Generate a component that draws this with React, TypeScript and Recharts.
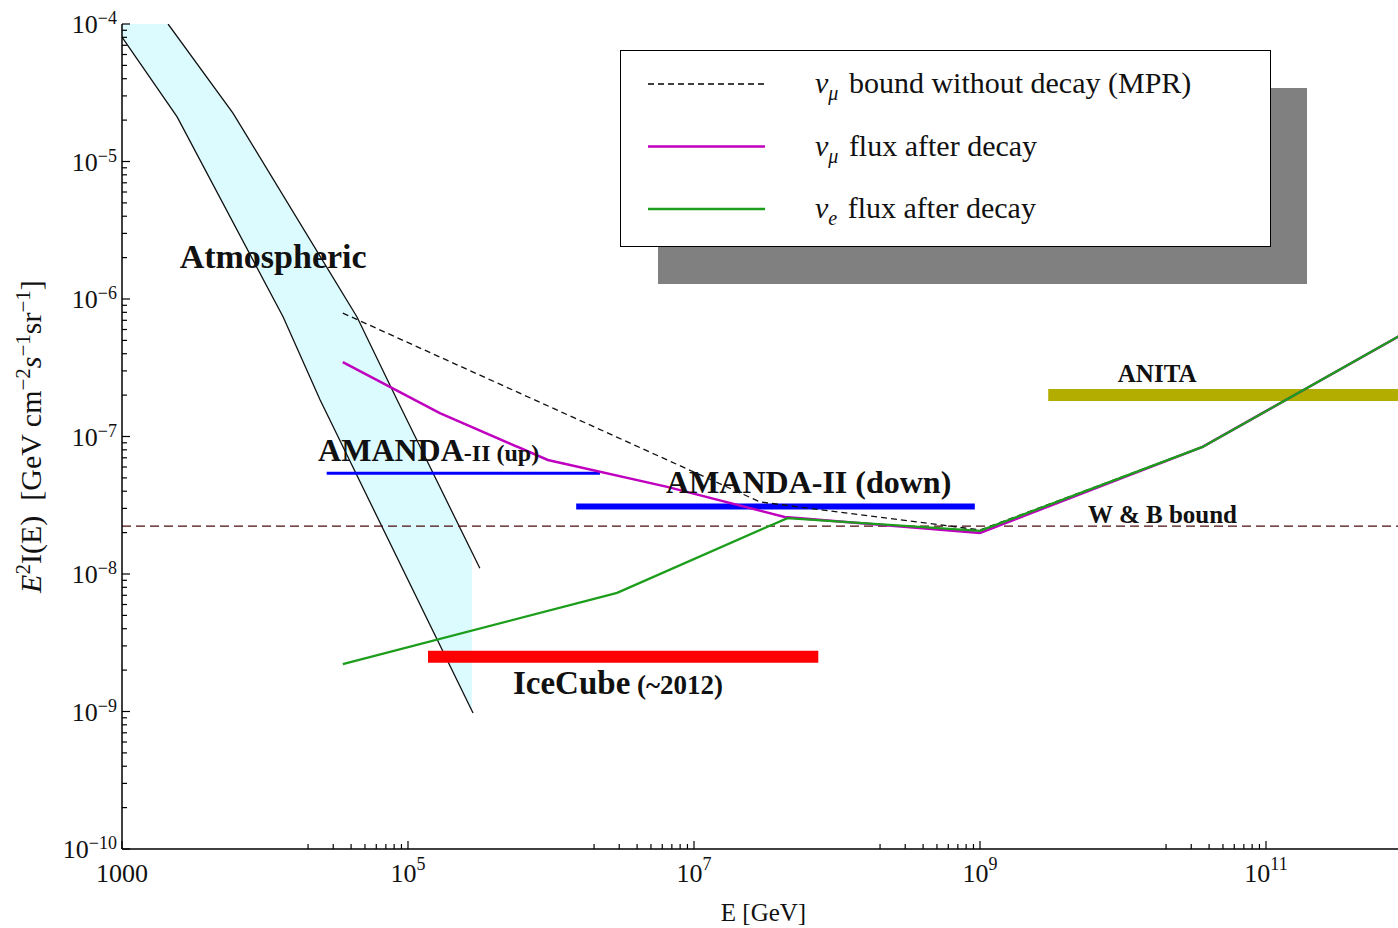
import React from 'react'
import { ComposedChart, Line, Area, XAxis, YAxis, ReferenceDot } from 'recharts'

const FONT = '"Liberation Serif", "Times New Roman", serif'
const PURPLE = '#bf00bf'
const GREEN = '#1c9e1c'

// E [GeV] vs E^2 I(E) [GeV cm^-2 s^-1 sr^-1]
const atmoBand = [
  { E: 1e3, lo: 8.04e-5, hi: 1e-4 },
  { E: 2.1e3, lo: 2.62e-5, hi: 1e-4 },
  { E: 2.43e3, lo: 2.11e-5, hi: 8.18e-5 },
  { E: 5.97e3, lo: 3.57e-6, hi: 2.25e-5 },
  { E: 1.34e4, lo: 7.4e-7, hi: 5.7e-6 },
  { E: 2.43e4, lo: 1.84e-7, hi: 2.06e-6 },
  { E: 4.4e4, lo: 5.16e-8, hi: 7.4e-7 },
  { E: 8.4e4, lo: 1.31e-8, hi: 1.84e-7 },
  { E: 2.8e5, lo: 1.01e-9, hi: 1.44e-8 },
]
const atmoLower = [[1e3, 8.04e-5], [2.43e3, 2.11e-5], [1.34e4, 7.4e-7], [2.43e4, 1.84e-7], [2.85e5, 9.75e-10]]
const atmoUpper = [[2.1e3, 1e-4], [5.97e3, 2.25e-5], [4.4e4, 7.4e-7], [8.4e4, 1.84e-7], [3.18e5, 1.1e-8]]

const mprBound = [[3.5e4, 7.9e-7], [2.9e7, 3.34e-8], [1e9, 2.09e-8], [3.6e10, 8.4e-8], [1e12, 5.9e-7]]
const numuDecay = [[3.5e4, 3.48e-7], [1.67e5, 1.48e-7], [9.5e5, 6.75e-8], [6.5e6, 4.3e-8], [4.3e7, 2.6e-8], [1e9, 1.99e-8], [3.6e10, 8.4e-8], [1e12, 5.9e-7]]
const nueDecay = [[3.5e4, 2.21e-9], [2.9e6, 7.3e-9], [4.5e7, 2.55e-8], [1e9, 2.06e-8], [3.6e10, 8.4e-8], [1e12, 5.9e-7]]

const wbBound = [[1e3, 2.23e-8], [1e12, 2.23e-8]]
const amandaUp = [[2.7e4, 5.4e-8], [2.2e6, 5.4e-8]]
const amandaDown = [[1.5e6, 3.1e-8], [9.2e8, 3.1e-8]]
const iceCube = [[1.38e5, 2.5e-9], [7.4e7, 2.5e-9]]
const anita = [[3.0e9, 2.0e-7], [1e12, 2.0e-7]]

const annotations = [
  { E: 1.14e4, F: 1.68e-6, anchor: 'middle', parts: [['Atmospheric', 34]] },
  { E: 2.35e4, F: 6.64e-8, anchor: 'start', parts: [['AMANDA', 32], ['-II (up)', 24]] },
  { E: 6.37e6, F: 3.88e-8, anchor: 'start', parts: [['AMANDA-II (down)', 32]] },
  { E: 5.42e5, F: 1.34e-9, anchor: 'start', parts: [['IceCube', 33], [' (~2012)', 27]] },
  { E: 9.2e9, F: 2.49e-7, anchor: 'start', parts: [['ANITA', 25]] },
  { E: 5.7e9, F: 2.35e-8, anchor: 'start', parts: [['W & B bound', 25]] },
]

const xMajor = [1e3, 1e5, 1e7, 1e9, 1e11]
const xMinorDecades = [1e4, 1e6, 1e8, 1e10]
const yMajor = [1e-10, 1e-9, 1e-8, 1e-7, 1e-6, 1e-5, 1e-4]
const subs = [2, 3, 4, 5, 6, 7, 8, 9]
const xTicks = [...xMajor, ...xMinorDecades.flatMap((d) => subs.map((k) => k * d))]
const yTicks = [...yMajor, ...yMajor.slice(0, -1).flatMap((d) => subs.map((k) => k * d))]

const pts = (arr: number[][]) => arr.map(([E, F]) => ({ E, F }))

function XTick({ x, y, payload, top }: any) {
  const v = payload.value
  const major = xMajor.includes(v)
  const len = major ? 8 : 5
  const dir = top ? 1 : -1
  const exp = Math.round(Math.log10(v))
  return (
    <g>
      <line x1={x} x2={x} y1={y} y2={y + dir * len} stroke="#000" strokeWidth={1.2} />
      {!top && major && (
        <text x={x} y={y + 33} textAnchor="middle" fontFamily={FONT} fontSize={26} fill="#111">
          {v === 1000 ? (
            '1000'
          ) : (
            <>
              <tspan>10</tspan>
              <tspan dy={-12} fontSize={18}>{exp}</tspan>
            </>
          )}
        </text>
      )}
    </g>
  )
}

function YTick({ x, y, payload }: any) {
  const v = payload.value
  const major = yMajor.some((m) => Math.abs(m - v) / m < 1e-6)
  const exp = Math.round(Math.log10(v))
  return (
    <g>
      <line x1={x} x2={x + (major ? 8 : 5)} y1={y} y2={y} stroke="#000" strokeWidth={1.2} />
      {major && (
        <text x={x - 5} y={y + 9} textAnchor="end" fontFamily={FONT} fontSize={26} fill="#111">
          <tspan>10</tspan>
          <tspan dy={-9} fontSize={18}>{'\u2212' + Math.abs(exp)}</tspan>
        </text>
      )}
    </g>
  )
}

function XLabel({ viewBox }: any) {
  const cx = viewBox.x + viewBox.width / 2 - 2
  return (
    <text x={cx} y={viewBox.y + 72} textAnchor="middle" fontFamily={FONT} fontSize={25} fill="#111">
      E [GeV]
    </text>
  )
}

function YLabel({ viewBox }: any) {
  const cx = 33
  const cy = viewBox.y + viewBox.height / 2
  return (
    <text
      x={cx}
      y={cy}
      transform={`rotate(-90 ${cx} ${cy})`}
      textAnchor="middle"
      fontFamily={FONT}
      fontSize={30}
      fill="#111"
      style={{ whiteSpace: 'pre' }}
    >
      <tspan fontStyle="italic">E</tspan>
      <tspan dy={-11} fontSize={21}>2</tspan>
      <tspan dy={11}>{'I(E)  [GeV cm'}</tspan>
      <tspan dy={-11} fontSize={21}>{'\u22122'}</tspan>
      <tspan dy={11} fontStyle="italic">s</tspan>
      <tspan dy={-11} fontSize={21}>{'\u22121'}</tspan>
      <tspan dy={11}>sr</tspan>
      <tspan dy={-11} fontSize={21}>{'\u22121'}</tspan>
      <tspan dy={11}>]</tspan>
    </text>
  )
}

function Annot({ viewBox, parts, anchor }: any) {
  return (
    <text x={viewBox.x} y={viewBox.y} textAnchor={anchor} fontFamily={FONT} fontWeight="bold" fill="#111">
      {parts.map(([t, fs]: any, i: number) => (
        <tspan key={i} fontSize={fs} style={{ whiteSpace: 'pre' }}>
          {t}
        </tspan>
      ))}
    </text>
  )
}

const legendItems = [
  { sub: '\u03bc', label: ' bound without decay (MPR)', color: '#000', width: 1.3, dash: '6 4' },
  { sub: '\u03bc', label: ' flux after decay', color: PURPLE, width: 2.5, dash: undefined },
  { sub: 'e', label: ' flux after decay', color: GREEN, width: 2.5, dash: undefined },
]

function LegendBox() {
  return (
    <>
      <div style={{ position: 'absolute', left: 650, top: 80, width: 649, height: 196, background: '#808080' }} />
      <div
        style={{
          position: 'absolute',
          left: 612,
          top: 42,
          width: 651,
          height: 197,
          background: '#fff',
          border: '1.5px solid #000',
          boxSizing: 'border-box',
        }}
      >
        <svg width={650} height={196} style={{ display: 'block' }}>
          {legendItems.map((it, i) => {
            const ly = 33 + i * 62.5
            return (
              <g key={i}>
                <line x1={27} x2={144} y1={ly} y2={ly} stroke={it.color} strokeWidth={it.width} strokeDasharray={it.dash} />
                <text x={194} y={ly + 9} fontFamily={FONT} fontSize={30} fill="#111" style={{ whiteSpace: 'pre' }}>
                  <tspan fontStyle="italic">{'\u03bd'}</tspan>
                  <tspan dy={7} fontSize={20} fontStyle="italic">{it.sub}</tspan>
                  <tspan dy={-7} dx={3}>{it.label}</tspan>
                </text>
              </g>
            )
          })}
        </svg>
      </div>
    </>
  )
}

export default function App() {
  return (
    <div style={{ width: 1382, height: 912 }}>
      <style>{'html{overflow:hidden;background:#fff}'}</style>
      {/* fixed so the plot may run past the right window edge, as in the source figure */}
      <div style={{ position: 'fixed', left: 8, top: 8, width: 1420, height: 920, overflow: 'hidden', background: '#fff' }}>
        <ComposedChart width={1420} height={920} margin={{ top: 16, right: 19, bottom: 0, left: 0 }}>
          <XAxis
            dataKey="E"
            type="number"
            scale="log"
            domain={[1e3, 1e12]}
            allowDataOverflow
            ticks={xTicks}
            interval={0}
            tick={<XTick />}
            tickLine={false}
            tickSize={0}
            tickMargin={0}
            height={79}
            axisLine={{ stroke: '#000', strokeWidth: 1.5 }}
            label={<XLabel />}
          />
          <XAxis
            xAxisId="top"
            orientation="top"
            type="number"
            scale="log"
            domain={[1e3, 1e12]}
            allowDataOverflow
            ticks={xTicks}
            interval={0}
            tick={<XTick top />}
            tickLine={false}
            tickSize={0}
            tickMargin={0}
            height={0}
            axisLine={{ stroke: '#000', strokeWidth: 1.5 }}
          />
          <YAxis
            type="number"
            scale="log"
            domain={[1e-10, 1e-4]}
            allowDataOverflow
            ticks={yTicks}
            interval={0}
            tick={<YTick />}
            tickLine={false}
            tickSize={0}
            tickMargin={0}
            width={114}
            axisLine={{ stroke: '#000', strokeWidth: 1.5 }}
            label={<YLabel />}
          />

          <Area
            data={atmoBand}
            dataKey={(d: any) => [d.lo, d.hi]}
            type="linear"
            stroke="none"
            fill="#dcfbff"
            fillOpacity={1}
            isAnimationActive={false}
          />
          <Line data={pts(atmoLower)} dataKey="F" type="linear" stroke="#111" strokeWidth={1.3} dot={false} isAnimationActive={false} />
          <Line data={pts(atmoUpper)} dataKey="F" type="linear" stroke="#111" strokeWidth={1.3} dot={false} isAnimationActive={false} />

          <Line data={pts(wbBound)} dataKey="F" type="linear" stroke="#4a0c0c" strokeWidth={1.2} strokeDasharray="9 5" dot={false} isAnimationActive={false} />
          <Line data={pts(amandaUp)} dataKey="F" type="linear" stroke="#0000ff" strokeWidth={3} dot={false} isAnimationActive={false} />
          <Line data={pts(amandaDown)} dataKey="F" type="linear" stroke="#0000ff" strokeWidth={6} dot={false} isAnimationActive={false} />
          <Line data={pts(iceCube)} dataKey="F" type="linear" stroke="#ff0000" strokeWidth={12} dot={false} isAnimationActive={false} />
          <Line data={pts(anita)} dataKey="F" type="linear" stroke="#b3ad00" strokeWidth={12} dot={false} isAnimationActive={false} />

          <Line data={pts(numuDecay)} dataKey="F" type="linear" stroke={PURPLE} strokeWidth={2.5} dot={false} isAnimationActive={false} />
          <Line data={pts(mprBound)} dataKey="F" type="linear" stroke="#111" strokeWidth={1.3} strokeDasharray="6 4" dot={false} isAnimationActive={false} />
          <Line data={pts(nueDecay)} dataKey="F" type="linear" stroke={GREEN} strokeWidth={2.3} dot={false} isAnimationActive={false} />

          {annotations.map((a, i) => (
            <ReferenceDot
              key={i}
              x={a.E}
              y={a.F}
              r={0}
              fill="none"
              stroke="none"
              ifOverflow="visible"
              label={<Annot parts={a.parts} anchor={a.anchor} />}
            />
          ))}
        </ComposedChart>
        <LegendBox />
      </div>
    </div>
  )
}
